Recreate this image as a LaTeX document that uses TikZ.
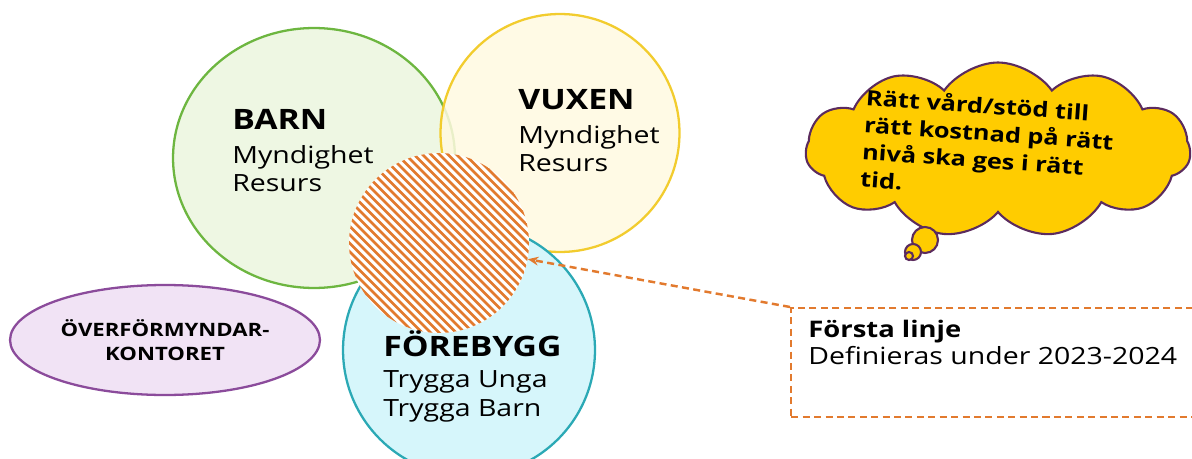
\documentclass[tikz,border=0pt]{standalone}
\usepackage{fontspec}
\setmainfont[FakeStretch=1.2]{Open Sans}
\usetikzlibrary{shapes.geometric,shapes.symbols,arrows.meta}

\definecolor{barnfill}{HTML}{EEF7E3}
\definecolor{barnline}{HTML}{6DB640}
\definecolor{vuxenfill}{HTML}{FFF9E0}
\definecolor{vuxenline}{HTML}{F2CC2E}
\definecolor{foreline}{HTML}{2BA9B5}
\definecolor{forefill}{HTML}{D6F6FB}
\definecolor{hatchorange}{HTML}{E27A2E}
\definecolor{ovfill}{HTML}{F1E3F5}
\definecolor{ovline}{HTML}{8B4B9B}
\definecolor{cloudfill}{HTML}{FFCC00}
\definecolor{cloudline}{HTML}{5B2B5E}

\tikzset{
	ring/.style={ellipse, line width=1.3pt},
	heading/.style={font=\fontsize{16}{18}\selectfont\bfseries, anchor=base west, inner sep=0pt},
	subtext/.style={font=\fontsize{13.5}{16.5}\selectfont, anchor=base west, align=left, inner sep=0pt},
	hatchdisc/.style={circle, fill=white, minimum size=3.6cm, inner sep=0pt,
		path picture={\foreach \d in {-200,-191.5,...,200}
			\draw[hatchorange, line width=1.5pt] (path picture bounding box.center) ++(\d-100,-100) -- ++(200,200);}},
	bubble/.style={draw=cloudline, fill=cloudfill, line width=1.2pt},
	orangedash/.style={draw=hatchorange, line width=1.4pt, dash pattern=on 4pt off 2.5pt}
}

\begin{document}
\begin{tikzpicture}[x=0.02cm, y=-0.02cm]
	\useasboundingbox (0,0) rectangle (1192,459);
	
	\node[ring, draw=barnline, fill=barnfill, minimum width=5.64cm, minimum height=5.2cm] (barn) at (314,158) {};
	\node[ring, draw=vuxenline, fill=vuxenfill, fill opacity=0.85, minimum width=4.78cm, minimum height=4.76cm] (vuxen) at (560,133) {};
	\node[ring, draw=foreline, fill=forefill, minimum width=5.04cm, minimum height=5.04cm] (forebygg) at (469,350) {};
	\node[hatchdisc] (mitt) at (439,243) {};
	
	\node[heading] (barnrubrik) at (232,130) {BARN};
	\node[subtext] (barntext) at (232,192) {Myndighet\\Resurs};
	\node[heading] (vuxenrubrik) at (518,110) {VUXEN};
	\node[subtext] (vuxentext) at (518,172) {Myndighet\\Resurs};
	\node[heading] (forerubrik) at (383,356) {FÖREBYGG};
	\node[subtext] (foretext) at (383,416) {Trygga Unga\\Trygga Barn};
	
	\node[ring, draw=ovline, fill=ovfill, minimum width=6.2cm, minimum height=2.2cm, inner sep=0pt, align=center,
		font=\fontsize{10.5}{14}\selectfont\bfseries] (overformyndare) at (165,340) {ÖVERFÖRMYNDAR-\\KONTORET};
	
	\node[cloud, cloud puffs=11, cloud puff arc=110, aspect=2.3, draw=cloudline, fill=cloudfill, line width=1.2pt,
		minimum width=7.7cm, minimum height=3.5cm] (moln) at (998,150) {};
	\node[rotate=-4, align=left, font=\fontsize{12}{15.5}\selectfont\bfseries] (molntext) at (988,146)
		{Rätt vård/stöd till\\rätt kostnad på rätt\\nivå ska ges i rätt\\tid.};
	\draw[bubble] (925,240) circle [radius=13];
	\draw[bubble] (913,252) circle [radius=8];
	\draw[bubble] (909,256) circle [radius=4];
	
	\node[orangedash, minimum width=8.3cm, minimum height=2.18cm, anchor=north west, inner sep=0pt] (ruta) at (790,307) {};
	\node[font=\fontsize{13}{15}\selectfont\bfseries, anchor=base west, inner sep=0pt] (rutarubrik) at (808,337) {Första linje};
	\node[font=\fontsize{13.5}{15}\selectfont, anchor=base west, inner sep=0pt] (rutatext) at (808,364) {Definieras under 2023-2024};
	
	\draw[orangedash, -{Stealth[length=6pt,width=5pt]}] (ruta.north west) -- (mitt);
\end{tikzpicture}
\end{document}
